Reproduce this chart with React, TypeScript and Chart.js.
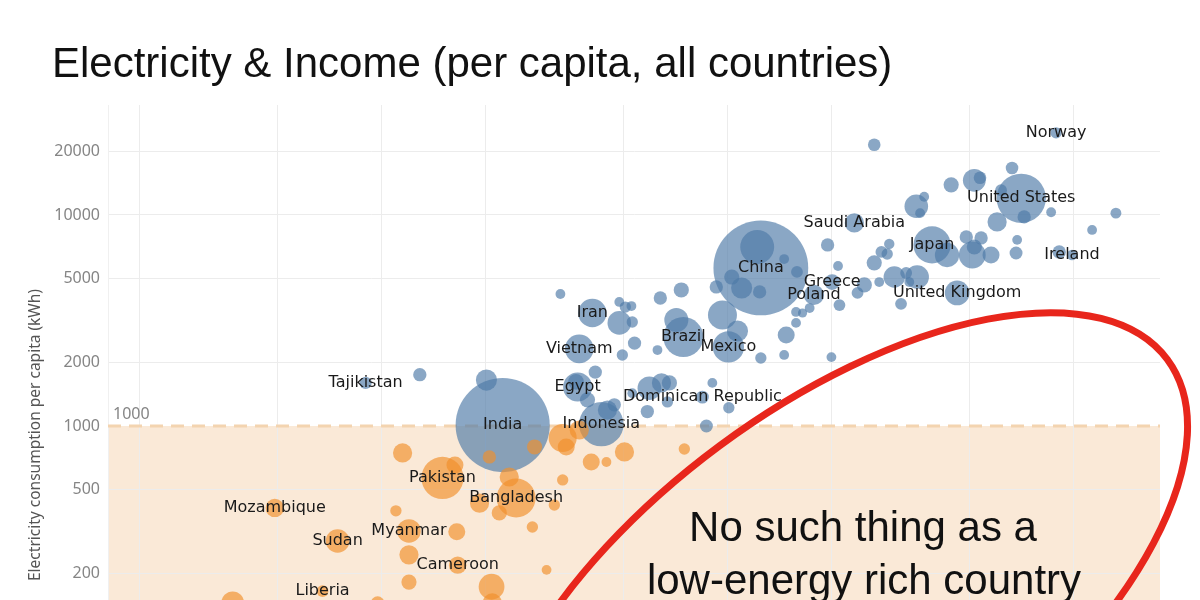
import React, { useEffect, useRef } from "react";
import { Chart, registerables } from "chart.js";

Chart.register(...registerables);

// ---- Data (GDP per capita US$, electricity kWh per capita, population millions) ----
const countries: string[] = [
  "Norway", "United States", "Ireland", "Japan", "United Kingdom", "Saudi Arabia", "Greece", "Poland",
  "China", "Brazil", "Mexico", "Iran", "Vietnam", "Egypt", "Dominican Republic", "Indonesia", "India", "Tajikistan",
  "Pakistan", "Bangladesh", "Mozambique", "Sudan", "Myanmar", "Cameroon", "Liberia",
  "", "", "", "", "", "", "", "", "", "", "", "", "", "", "", "", "", "", "", "",
  "", "", "", "", "", "", "", "", "", "", "", "", "", "", "", "", "", "", "", "",
  "", "", "", "", "", "", "", "", "", "", "", "", "", "", "", "", "", "", "", "",
  "", "", "", "", "", "", "", "", "", "", "", "", "", "", "", "", "", "", "", "",
  "", "", "", "", "", "", "", "", "", "", "", "", "", "", "", "", "", "", "", "",
  "", "", "", "", "", "", "",
];

const gdpPerCapita: number[] = [
  89300, 70800, 99300, 39100, 46200, 23300, 20100, 17800,
  12500, 7460, 10070, 4070, 3730, 3690, 8470, 4320, 2240, 899,
  1500, 2450, 491, 746, 1200, 1660, 675,
  12200, 91200, 26600, 66600, 51800, 53800, 44400, 35200, 37100, 36100, 86400, 133000, 113500, 60300, 72200, 61900, 19500, 20900, 27900, 29400,
  29000, 26600, 49100, 54200, 51100, 57900, 51800, 43200, 68400, 68900, 30400, 32900, 35400, 33600, 24900, 23800, 27500, 31800, 21100, 17300,
  20000, 16500, 3290, 4870, 5070, 5280, 4870, 5310, 6400, 7360, 9680, 9290, 10700, 14800, 14600, 10300, 11000, 12400, 15900, 15800,
  15800, 7120, 5390, 4970, 6280, 12500, 14600, 4150, 3940, 4500, 4710, 5950, 6450, 6800, 5870, 5310, 6710, 9050, 10100, 8700,
  1290, 2010, 3650,
  2050, 2770, 1150, 3340, 3730, 3420, 4040, 4470, 5040, 7510, 1630, 2340, 3340, 1920, 2190, 2730, 3160,
  1650, 1200, 3000, 1200, 2080, 1100, 371, 974, 2090,
];

const kwhPerCapita: number[] = [
  24500, 12000, 6460, 7210, 4270, 9170, 4810, 4180,
  5610, 2640, 2370, 3430, 2320, 1530, 1370, 1020, 1010, 1600,
  567, 456, 409, 285, 318, 219, 165,
  7050, 6680, 21500, 16700, 14600, 15000, 13900, 11000, 12200, 10200, 10300, 10200, 8490, 9270, 9790, 13100, 7210, 5730, 6680, 7290,
  6530, 5930, 7860, 7780, 6460, 6460, 7050, 6460, 6600, 7620, 5080, 5310, 5080, 4810, 4660, 4270, 4810, 3790, 3740, 3620,
  2120, 3430, 4220, 3870, 3660, 3700, 3080, 3110, 4040, 4410, 3360, 4560, 2820, 2700, 6180, 5080, 4510, 4320, 5370, 3470,
  3080, 3180, 2470, 2170, 2290, 2100, 2170, 1800, 1330, 1190, 1260, 1510, 1600, 1600, 1170, 1430, 1300, 1600, 1220, 1000,
  1750, 1650, 1620,
  713, 795, 745, 877, 957, 795, 675, 675, 753, 778, 653, 573, 555, 431, 387, 332, 422,
  315, 245, 208, 182, 173, 396, 145, 145, 145,
];

const populationM: number[] = [
  7, 340, 5, 180, 67, 35, 20, 40,
  1400, 212, 120, 95, 97, 100, 11, 270, 1380, 9,
  240, 200, 31, 60, 60, 27, 8,
  145, 12, 10, 10, 55, 10, 18, 60, 4, 4, 4, 6, 4, 35, 12, 8, 12, 4, 8, 5,
  7, 18, 12, 12, 83, 25, 18, 65, 11, 4, 47, 8, 60, 4, 18, 8, 4, 8, 8, 4,
  4, 3, 4, 4, 7, 4, 60, 7, 12, 18, 100, 12, 45, 25, 4, 18, 45, 12, 8, 4,
  4, 63, 12, 7, 4, 7, 4, 12, 18, 35, 12, 60, 35, 18, 12, 4, 7, 4, 7, 11,
  12, 45, 20,
  12, 18, 35, 92, 35, 25, 25, 4, 35, 7, 25, 35, 7, 35, 18, 7, 7,
  25, 35, 4, 18, 75, 7, 55, 12, 35,
];

const yTicks: number[] = [200, 500, 1000, 2000, 5000, 10000, 20000];
const xTicks: number[] = [200, 500, 1000, 2000, 5000, 10000, 20000, 50000, 100000];
const THRESHOLD = 1000;

const chartTitle = "Electricity & Income (per capita, all countries)";
const yAxisTitle = "Electricity consumption per capita (kWh)";
const noteLines: string[] = ["No such thing as a", "low-energy rich country"];

const BLUE = "rgba(78,121,167,0.66)";
const ORANGE = "rgba(242,142,43,0.66)";

const radiusFor = (pop: number) => 2.5 + 1.2 * Math.sqrt(pop);

function buildPoints(above: boolean) {
  const pts: any[] = [];
  for (let i = 0; i < gdpPerCapita.length; i++) {
    const isAbove = kwhPerCapita[i] >= THRESHOLD;
    if (isAbove !== above) continue;
    pts.push({ x: gdpPerCapita[i], y: kwhPerCapita[i], r: radiusFor(populationM[i]), i });
  }
  return pts;
}

const decorPlugin = {
  id: "decor",
  beforeDraw(chart: any) {
    const { ctx, chartArea: a, scales } = chart;
    const yT = scales.y.getPixelForValue(THRESHOLD);
    ctx.save();
    ctx.fillStyle = "#ffffff";
    ctx.fillRect(0, 0, chart.width, chart.height);
    ctx.fillStyle = "#fae9d7";
    ctx.fillRect(a.left, yT, a.right - a.left, a.bottom - yT);
    ctx.restore();
  },
  beforeDatasetsDraw(chart: any) {
    const { ctx, chartArea: a, scales } = chart;
    const yT = scales.y.getPixelForValue(THRESHOLD);
    ctx.save();
    ctx.strokeStyle = "#f3d4b0";
    ctx.lineWidth = 3;
    ctx.setLineDash([13, 8]);
    ctx.beginPath();
    ctx.moveTo(a.left, yT);
    ctx.lineTo(a.right, yT);
    ctx.stroke();
    ctx.setLineDash([]);
    ctx.fillStyle = "#858585";
    ctx.font = '16px "Noto Sans"';
    ctx.textAlign = "left";
    ctx.textBaseline = "alphabetic";
    ctx.fillText(String(THRESHOLD), a.left + 5, yT - 7);
    ctx.restore();
  },
  afterDatasetsDraw(chart: any) {
    const { ctx } = chart;
    ctx.save();
    ctx.font = '16px "DejaVu Sans"';
    ctx.fillStyle = "#1a1a1a";
    ctx.textAlign = "center";
    ctx.textBaseline = "middle";
    chart.data.datasets.forEach((ds: any, di: number) => {
      const meta = chart.getDatasetMeta(di);
      meta.data.forEach((el: any, k: number) => {
        const name = countries[ds.data[k].i];
        if (name) ctx.fillText(name, el.x, el.y);
      });
    });
    ctx.restore();
  },
  afterDraw(chart: any) {
    const { ctx } = chart;
    ctx.save();
    ctx.fillStyle = "#111111";
    ctx.font = '42px "Liberation Sans", Arial, sans-serif';
    ctx.textAlign = "left";
    ctx.textBaseline = "alphabetic";
    ctx.fillText(chartTitle, 52, 77);
    ctx.save();
    ctx.translate(36, 435);
    ctx.rotate(-Math.PI / 2);
    ctx.font = '15.5px "Noto Sans"';
    ctx.fillStyle = "#555555";
    ctx.textAlign = "center";
    ctx.textBaseline = "middle";
    ctx.fillText(yAxisTitle, 0, 0);
    ctx.restore();
    ctx.strokeStyle = "#e8261c";
    ctx.lineWidth = 7;
    ctx.beginPath();
    ctx.ellipse(837, 604, 411, 197, -0.637, 0, Math.PI * 2);
    ctx.stroke();
    ctx.fillStyle = "#111111";
    ctx.font = '42px "Liberation Sans", Arial, sans-serif';
    ctx.textAlign = "center";
    ctx.fillText(noteLines[0], 863, 541);
    ctx.fillText(noteLines[1], 864, 594);
    ctx.restore();
  },
};

export default function App() {
  const ref = useRef<HTMLCanvasElement | null>(null);
  useEffect(() => {
    if (!ref.current) return;
    const chart = new Chart(ref.current, {
      type: "bubble",
      data: {
        datasets: [
          { label: "below", data: buildPoints(false), backgroundColor: ORANGE, borderWidth: 0, hoverBorderWidth: 0 },
          { label: "above", data: buildPoints(true), backgroundColor: BLUE, borderWidth: 0, hoverBorderWidth: 0 },
        ],
      },
      options: {
        animation: false,
        responsive: false,
        devicePixelRatio: 1,
        events: [],
        layout: { autoPadding: false, padding: { left: 0, right: 40, top: 105, bottom: 0 } },
        plugins: { legend: { display: false }, tooltip: { enabled: false }, title: { display: false } },
        scales: {
          x: {
            type: "logarithmic",
            min: 161.7,
            max: 178400,
            afterBuildTicks: (s: any) => { s.ticks = xTicks.map((v) => ({ value: v })); },
            afterFit: (s: any) => { s.height = 0; s.paddingLeft = 0; s.paddingRight = 0; s.paddingTop = 0; s.paddingBottom = 0; },
            ticks: { display: false, padding: 0 },
            grid: { color: "#ececec", drawTicks: false, lineWidth: 1 },
            border: { display: false },
          },
          y: {
            type: "logarithmic",
            min: 149.7,
            max: 33200,
            afterBuildTicks: (s: any) => { s.ticks = yTicks.map((v) => ({ value: v })); },
            afterFit: (s: any) => { s.width = 108; s.paddingTop = 0; s.paddingBottom = 0; },
            ticks: {
              callback: (v: any) => String(v),
              color: "#858585",
              font: { family: "Noto Sans", size: 16 },
              padding: 8,
              autoSkip: false,
            },
            grid: { color: (c: any) => (c.tick && c.tick.value === THRESHOLD ? "rgba(0,0,0,0)" : "#ececec"), drawTicks: false },
            border: { display: true, color: "#f0f0f0" },
          },
        },
      },
      plugins: [decorPlugin],
    });
    return () => chart.destroy();
  }, []);
  return (
    <div style={{ position: "fixed", left: 0, top: 0, width: 1200, height: 600, background: "#fff" }}>
      <canvas ref={ref} width={1200} height={600} style={{ width: 1200, height: 600, display: "block" }} />
    </div>
  );
}
